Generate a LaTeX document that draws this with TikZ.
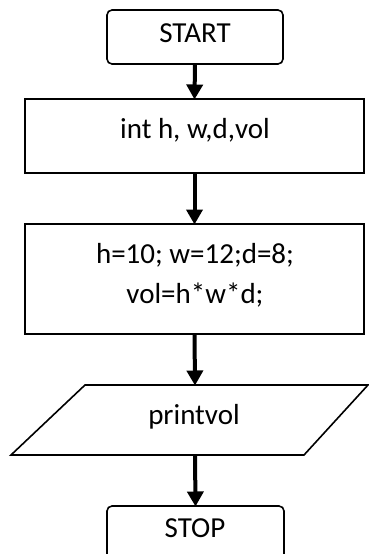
\documentclass[tikz,border=0pt]{standalone}
\usepackage{fontspec}
\setmainfont{Carlito}
\usetikzlibrary{arrows.meta}
\begin{document}
\begin{tikzpicture}[x=1pt,y=-1pt,
  shapebox/.style={draw, line width=1.6pt, inner sep=0pt, outer sep=0pt},
  roundbox/.style={shapebox, rounded corners=5pt},
  txt/.style={font=\fontsize{29}{40}\selectfont, inner sep=0pt, anchor=base},
  flow/.style={line width=4pt, -{Triangle[width=16pt,length=15pt]}, shorten >=-0.5pt}
]
\useasboundingbox (0,0) rectangle (369,554);
\clip (0,0) rectangle (369,554);
% shapes
\node[roundbox, minimum width=176pt, minimum height=54pt] (start) at (195,37) {};
\node[shapebox, minimum width=339pt, minimum height=74pt] (decl) at (194.5,136) {};
\node[shapebox, minimum width=339pt, minimum height=110pt] (calc) at (194.5,279) {};
\draw[line width=1.6pt, line join=miter] (85,385) -- (368,385) -- (304,455) -- (11,455) -- cycle;
\node[inner sep=0pt, outer sep=0pt, minimum width=10pt, minimum height=70pt] (print) at (195,420) {};
\node[roundbox, minimum width=177pt, minimum height=80pt] (stop) at (195.5,546) {};
% texts
\node[txt] (tstart) at (195,42) {START};
\node[txt] (tdecl) at (195,138) {int h, w,d,vol};
\node[txt] (tcalc1) at (195,263) {h=10; w=12;d=8;};
\node[txt] (tcalc2) at (195,303) {vol=h*w*d;};
\node[txt] (tprint) at (194,424) {printvol};
\node[txt] (tstop) at (195,537) {STOP};
% connectors
\draw[flow] (start.south) -- (decl.north);
\draw[flow] (decl.south) -- (calc.north);
\draw[flow] (calc.south) -- (print.north);
\draw[flow] (print.south) -- (stop.north);
\end{tikzpicture}
\end{document}
